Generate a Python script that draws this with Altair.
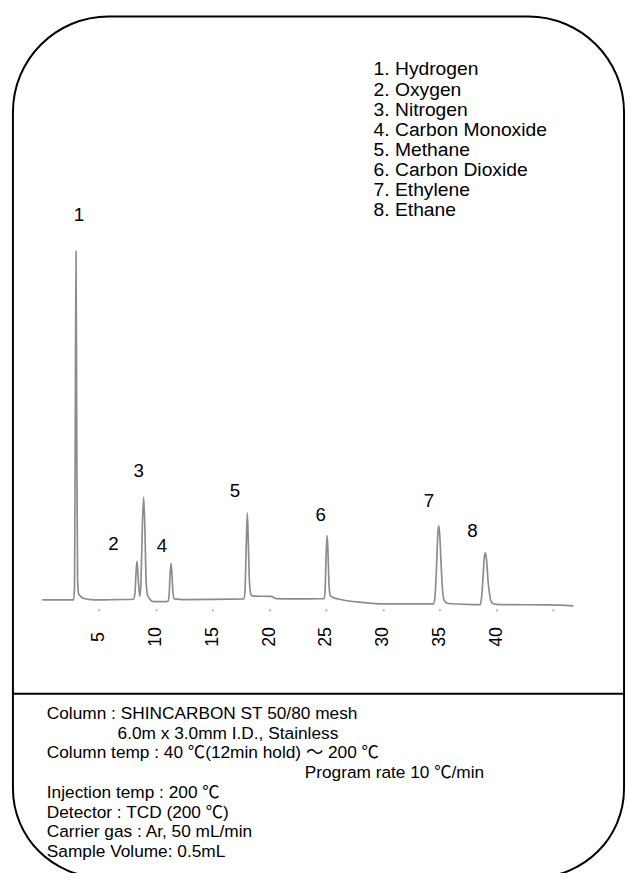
import altair as alt
import pandas as pd

# ---------------- data ----------------
trace_time = [0.0, 2.78, 2.86, 2.92, 2.99, 3.06, 3.13, 3.22, 3.40, 3.70, 4.30, 5.00, 6.50,
              8.05, 8.18, 8.28, 8.36, 8.45, 8.55, 8.63, 8.72, 8.84, 8.95, 9.06, 9.16, 9.28, 9.50,
              9.80, 10.90, 11.10, 11.20, 11.28, 11.36, 11.44, 11.53, 11.65, 12.50,
              17.78, 17.88, 17.98, 18.08, 18.17, 18.27, 18.40, 18.60, 20.20, 20.60, 22.00,
              24.85, 24.93, 25.02, 25.11, 25.19, 25.28, 25.40, 25.70, 26.20, 27.00, 28.20, 30.00,
              34.50, 34.62, 34.75, 34.85, 34.94, 35.04, 35.15, 35.27, 35.40, 35.60, 36.00, 38.00,
              38.60, 38.72, 38.85, 38.96, 39.05, 39.15, 39.28, 39.42, 39.58, 39.85, 40.30, 44.70, 46.80]
trace_signal = [0.0, 0.0, 4.0, 45.0, 100.0, 45.0, 6.0, 1.8, 1.0, 0.4, 0.1, 0.0, 0.1,
                0.2, 2.0, 8.0, 11.1, 7.0, 2.5, 1.0, 6.0, 22.0, 29.5, 20.0, 6.0, 1.5, 0.2,
                -0.5, -0.5, -0.3, 2.0, 7.5, 10.5, 7.5, 2.0, 0.3, 0.1,
                0.3, 3.0, 15.0, 24.9, 16.0, 5.0, 1.5, 1.1, 1.0, 0.4, 0.3,
                0.4, 3.0, 13.0, 18.5, 13.0, 4.0, 1.2, 0.6, 0.2, -0.3, -0.7, -1.13,
                -1.13, 1.5, 10.0, 18.5, 21.3, 18.0, 10.0, 3.0, 0.0, -0.8, -1.1, -1.33,
                -1.33, 1.0, 7.0, 12.5, 13.5, 11.5, 5.5, 1.5, -0.6, -1.2, -1.33, -1.42, -1.70]

peak_ids = ["1", "2", "3", "4", "5", "6", "7", "8"]
label_time = [3.25, 6.28, 8.51, 10.57, 17.0, 24.54, 34.07, 37.9]
label_signal = [110.5, 16.1, 36.9, 15.5, 31.2, 24.4, 28.4, 19.8]

compounds = ["1. Hydrogen", "2. Oxygen", "3. Nitrogen", "4. Carbon Monoxide",
             "5. Methane", "6. Carbon Dioxide", "7. Ethylene", "8. Ethane"]

conditions = ["Column : SHINCARBON ST 50/80 mesh",
              "6.0m x 3.0mm I.D., Stainless",
              "Column temp : 40 ℃(12min hold) ～ 200 ℃",
              "Program rate 10 ℃/min",
              "Injection temp : 200 ℃",
              "Detector : TCD (200 ℃)",
              "Carrier gas : Ar, 50 mL/min",
              "Sample Volume: 0.5mL"]

tick_values = [5, 10, 15, 20, 25, 30, 35, 40, 45]

# ---------------- chart ----------------
FONT = "Liberation Sans, Arial, Noto Sans CJK JP"
W, H = 627, 865

x_scale = alt.Scale(domain=[-3.0, 51.52], nice=False, zero=False)
y_scale = alt.Scale(domain=[-76.77, 168.27], nice=False, zero=False)

trace = pd.DataFrame({"time": trace_time, "signal": trace_signal})
labels = pd.DataFrame({"time": label_time, "signal": label_signal, "id": peak_ids})
one = pd.DataFrame({"k": [0]})

x_axis = alt.Axis(values=tick_values,
                  labelExpr="datum.value == 45 ? '' : datum.label",
                  labelAngle=270, labelAlign="center", labelBaseline="middle",
                  labelFontSize=18, labelFont=FONT, labelColor="black",
                  labelPadding=26, labelFlush=False, labelOverlap=False, labelBound=False,
                  tickSize=2, tickWidth=2, tickColor="#b0b0b0",
                  domain=False, grid=False, title=None, offset=-262)

line = alt.Chart(trace).mark_line(color="#8c8c8c", strokeWidth=1.7, interpolate="monotone").encode(
    x=alt.X("time:Q", scale=x_scale, axis=x_axis),
    y=alt.Y("signal:Q", scale=y_scale, axis=None),
)

peak_text = alt.Chart(labels).mark_text(font=FONT, fontSize=19, color="black",
                                        align="center", baseline="middle").encode(
    x=alt.X("time:Q", scale=x_scale),
    y=alt.Y("signal:Q", scale=y_scale),
    text="id:N",
)

legend = alt.Chart(one).mark_text(text=compounds, font=FONT, fontSize=19.5, lineHeight=20.4,
                                  align="left", baseline="alphabetic", color="black").encode(
    x=alt.value(370.3), y=alt.value(62.7))

border = alt.Chart(one).mark_rect(fill="transparent", stroke="black", strokeWidth=2,
                                  cornerRadiusTopLeft=97, cornerRadiusTopRight=97,
                                  cornerRadiusBottomLeft=90, cornerRadiusBottomRight=90).encode(
    x=alt.value(5), x2=alt.value(624), y=alt.value(3), y2=alt.value(875))

separator = alt.Chart(one).mark_rule(color="black", strokeWidth=2).encode(
    x=alt.value(5), x2=alt.value(624), y=alt.value(689))

indent = {1: 111.0, 3: 300.5}
cond_layers = []
for i, txt in enumerate(conditions):
    cond_layers.append(
        alt.Chart(one).mark_text(text=txt, font=FONT, fontSize=17.5, align="left",
                                 baseline="alphabetic", color="black").encode(
            x=alt.value(indent.get(i, 39.3)), y=alt.value(714.6 + 20 * i))
    )

chart = alt.layer(border, separator, line, peak_text, legend, *cond_layers).properties(
    width=W, height=H, padding=0, background="white",
    autosize=alt.AutoSizeParams(type="none"),
).configure_view(strokeWidth=0)

chart.save("out.html", embed_options={"renderer": "svg", "actions": False})
